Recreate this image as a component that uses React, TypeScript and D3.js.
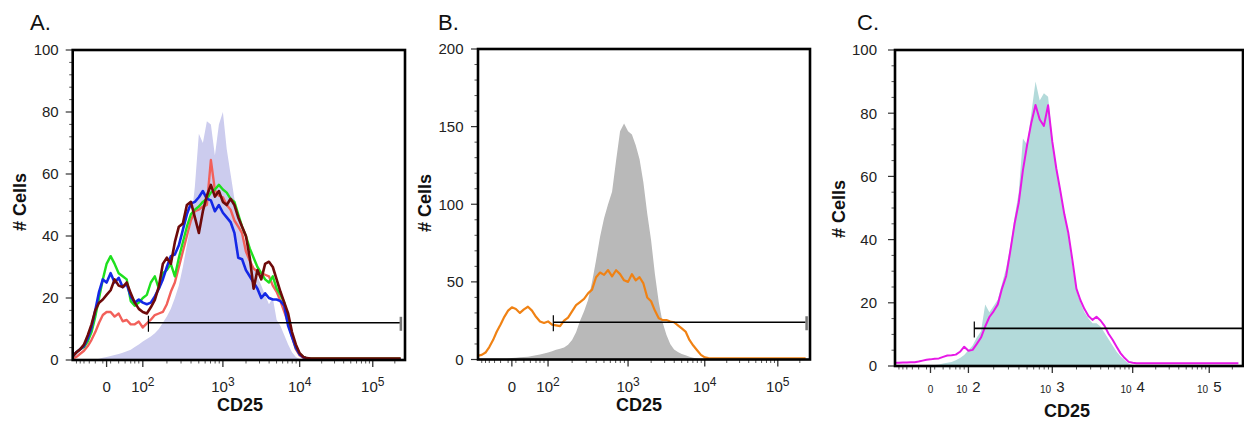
import React from 'react';
import * as d3 from 'd3';

// ---- shared display scale (biexponential-like decades) ----
const decadeStops = [1.1, 1.55, 2, 3, 4, 5, 5.44];
const decadeFrac = [0, 0.102, 0.211, 0.452, 0.683, 0.903, 1];

// ---- histogram bins (decade units) ----
const bins = [
  1.10, 1.15, 1.20, 1.25, 1.30, 1.35, 1.40, 1.45, 1.50, 1.55,
  1.60, 1.65, 1.70, 1.75, 1.80, 1.85, 1.90, 1.95, 2.00, 2.05,
  2.10, 2.15, 2.20, 2.25, 2.30, 2.35, 2.40, 2.45, 2.50, 2.55,
  2.60, 2.65, 2.70, 2.75, 2.80, 2.85, 2.90, 2.95, 3.00, 3.05,
  3.10, 3.15, 3.20, 3.25, 3.30, 3.35, 3.40, 3.45, 3.50, 3.55,
  3.60, 3.65, 3.70, 3.75, 3.80, 3.85, 3.90, 3.95, 4.00, 4.05,
  4.10, 4.15, 4.20, 4.30, 4.40, 4.60, 5.00, 5.38,
];

// ---- Panel A ----
const fillA = [
  0, 0, 0, 0, 0, 0, 0.2, 0.4, 0.7, 1.0,
  1.3, 1.6, 1.9, 2.3, 2.8, 3.3, 4.2, 5.0, 6.0, 6.8,
  7.6, 8.6, 10, 12, 14, 16.5, 20, 24, 30, 37,
  44, 56, 73, 70, 77, 76, 66, 76, 80, 68,
  60, 52, 46, 41, 37, 33, 30, 27, 24, 21,
  18, 20, 13, 11, 8, 5, 2.5, 1, 0.3, 0,
  0, 0, 0, 0, 0, 0, 0, 0,
];
const greenA = [
  1.2, 2.5, 3.5, 4.2, 6, 9, 14, 20, 26, 31,
  33.5, 31, 28, 27, 26, 19, 17.5, 18.5, 20, 21,
  25, 27, 23, 28, 29, 31, 27, 33, 38, 43,
  47, 48.5, 49.5, 51, 52, 54, 55, 56.5, 55, 54,
  52, 51, 47, 43, 40, 36, 33, 30, 28, 26,
  25, 27, 23, 21, 18.5, 13, 8, 4, 2, 1,
  0.5, 0.4, 0.4, 0.4, 0.4, 0.4, 0.4, 0.4,
];
const redA = [
  0.5, 1, 2, 3, 4.5, 6.5, 9, 12, 14.5, 15.5,
  15.5, 14, 15, 12.5, 12.9, 11.5, 11.5, 12.4, 10.5, 11.8,
  13, 14.5, 15, 15.5, 18, 22, 25, 30, 35, 40,
  45, 48, 48.5, 49.5, 50, 64.5, 54.8, 53, 52.5, 50,
  48.5, 45, 43, 40.9, 35, 32, 29.5, 28.5, 28, 27.5,
  27, 24, 22, 19, 15.5, 12, 7.5, 3.5, 1.5, 0.7,
  0.5, 0.4, 0.4, 0.4, 0.4, 0.4, 0.4, 0.4,
];
const blueA = [
  1.2, 2.5, 3.5, 4.5, 7, 10.5, 16, 22, 26, 25,
  28, 25, 26.5, 23.5, 24.5, 20.5, 18.5, 19.5, 18.5, 18,
  18.5, 20.5, 23, 26, 30, 33.5, 34, 37, 42, 47,
  50.5, 51, 52.5, 54.5, 52, 51.5, 48, 50, 47.5, 46,
  44.5, 41, 33, 32.5, 29, 27, 25, 23, 20, 21.5,
  20, 19.5, 19.5, 19, 17.5, 11, 7.5, 4, 1.8, 0.9,
  0.5, 0.3, 0.2, 0.2, 0.2, 0.2, 0.2, 0.2,
];
const maroonA = [
  1.2, 2.5, 3.5, 5, 8, 11.5, 16, 18.5, 19.5, 21,
  22.5, 26, 24, 23.5, 25, 21.5, 18.5, 16.5, 15.5, 15,
  17, 19.4, 23.7, 31, 33, 31, 38, 43, 44, 50,
  51, 46, 41, 48, 53, 56.5, 52.7, 54.5, 51, 50,
  52, 50, 46, 43, 40, 33, 23, 29, 26, 31,
  31.7, 30, 26, 22, 18.5, 15, 9, 5, 2.2, 1,
  0.6, 0.5, 0.5, 0.5, 0.5, 0.5, 0.5, 0.5,
];
const gateA = [2.07, 5.37, 12];

// ---- Panel B ----
const fillB = [
  0, 0, 0, 0, 0, 0, 0, 0, 0.5, 1,
  1.2, 1.4, 1.6, 1.8, 2.2, 2.7, 3.2, 3.9, 4.5, 5.3,
  6.3, 7, 7.8, 9.5, 12.5, 17.5, 25, 31, 38.3, 50,
  64, 79, 91, 100, 108, 128, 147, 152, 147, 145,
  138, 129, 114, 94, 77, 55, 37, 24, 16, 10,
  6.5, 4.8, 3.5, 2.7, 1.8, 1.2, 0.7, 0.3, 0, 0,
  0, 0, 0, 0, 0, 0, 0, 0,
];
const orangeB = [
  2.5, 3, 4.5, 8, 12.5, 18, 22.5, 27.5, 31.5, 33.6,
  32.5, 30, 32.3, 34, 31.5, 27.5, 24.5, 23.5, 24.5, 22.5,
  22, 21.5, 25, 27, 31, 35, 37, 39, 42.6, 45,
  53, 56, 54.5, 57.6, 53.5, 57.5, 55, 51, 50, 55,
  51, 53, 49, 40, 37.5, 31.5, 26.5, 25.4, 25.4, 24.5,
  24, 22, 20, 18, 12.6, 9, 6, 3, 1.4, 0.9,
  0.8, 0.8, 0.8, 0.8, 0.8, 0.8, 0.8, 0.8,
];
const gateB = [2.066, 5.38, 24];

// ---- Panel C ----
const fillC = [
  0, 0, 0, 0, 0, 0, 0, 0, 0, 0,
  0.3, 0.5, 0.8, 1, 1.3, 1.8, 2.5, 3.5, 5, 6.5,
  9, 11, 19.5, 17, 19, 21, 26, 31, 38, 47,
  55, 72, 70, 80, 90, 84, 86.3, 85.2, 72, 63,
  56, 48, 41, 32, 24, 20, 17, 15, 13.5, 13.5,
  12.5, 10.5, 8.5, 6.5, 4.5, 3, 1.8, 0.8, 0.3, 0,
  0, 0, 0, 0, 0, 0, 0, 0,
];
const magentaC = [
  1.0, 1.0, 1.1, 1.1, 1.2, 1.2, 1.4, 1.7, 2.0, 2.1,
  2.3, 2.4, 2.9, 3.3, 3.4, 3.6, 4.5, 6.1, 4.8, 5.1,
  7, 9, 12.5, 15.5, 17.3, 19.5, 24.5, 28.5, 36.5, 45,
  51.7, 62, 70, 77, 82.6, 78, 76, 82.5, 71, 62.5,
  55.4, 48, 42, 33.5, 24.5, 20.8, 18, 15.8, 14.6, 15.6,
  14.4, 12.7, 10.2, 8.3, 6.1, 4, 2.5, 1.3, 1.0, 0.85,
  0.85, 0.85, 0.85, 0.85, 0.85, 0.85, 0.85, 0.85,
];
const gateC = [2.07, 5.43, 11.9];

// ---- axis ticks ----
const xMajorTicks = [
  { d: 1.55, base: '0', exp: '' },
  { d: 2, base: '10', exp: '2' },
  { d: 3, base: '10', exp: '3' },
  { d: 4, base: '10', exp: '4' },
  { d: 5, base: '10', exp: '5' },
];
const xMinorLinear = [1.15, 1.2, 1.25, 1.32, 1.4, 1.5, 1.6, 1.7, 1.78, 1.85, 1.9, 1.95];
const logDecades = [2, 3, 4, 5];
const logMultipliers = [2, 3, 4, 5, 6, 7, 8, 9];

const panels = [
  {
    id: 'A', letter: 'A.', letterX: 30,
    left: 72.7, right: 405, top: 50, bottom: 360,
    yMax: 100, yStep: 20, yMinor: 4, yLabelGap: 14,
    fill: fillA, fillColor: '#ccccee',
    lines: [
      { v: redA, c: '#f2605a', w: 2.4 },
      { v: greenA, c: '#1ee01e', w: 2.4 },
      { v: blueA, c: '#1428e6', w: 2.6 },
      { v: maroonA, c: '#6e0a0a', w: 2.6 },
    ],
    gate: gateA, style: 'std',
    cellsX: 20, cellsY: 202, cdX: 240, cdY: 410.5, tickLabelY: 392,
  },
  {
    id: 'B', letter: 'B.', letterX: 438,
    left: 478, right: 810, top: 49, bottom: 359.5,
    yMax: 200, yStep: 50, yMinor: 10, yLabelGap: 14.5,
    fill: fillB, fillColor: '#b9b9b9',
    lines: [{ v: orangeB, c: '#f08214', w: 2.2 }],
    gate: gateB, style: 'std',
    cellsX: 425, cellsY: 203, cdX: 639, cdY: 410.5, tickLabelY: 392,
  },
  {
    id: 'C', letter: 'C.', letterX: 857,
    left: 895, right: 1243, top: 50, bottom: 366,
    yMax: 100, yStep: 20, yMinor: 5, yLabelGap: 18,
    fill: fillC, fillColor: '#b3dada',
    lines: [{ v: magentaC, c: '#e619e6', w: 2 }],
    gate: gateC, style: 'c',
    cellsX: 839, cellsY: 209, cdX: 1067, cdY: 416.5, tickLabelY: 393,
  },
];

const FONT = '"Liberation Sans", Arial, Helvetica, sans-serif';

function Panel({ p }: { p: any }) {
  const x = d3
    .scaleLinear()
    .domain(decadeStops)
    .range(decadeFrac.map((f) => p.left + f * (p.right - p.left)));
  const y = d3.scaleLinear().domain([0, p.yMax]).range([p.bottom, p.top]);
  const pts = (vals: number[]) => bins.map((d, i) => [d, vals[i]] as [number, number]);
  const area = d3
    .area<[number, number]>()
    .x((q) => x(q[0]))
    .y0(y(0))
    .y1((q) => y(q[1]));
  const line = d3
    .line<[number, number]>()
    .x((q) => x(q[0]))
    .y((q) => y(q[1]));

  const yMajor = d3.range(0, p.yMax + 0.001, p.yStep);
  const yMinor = d3.range(0, p.yMax + 0.001, p.yMinor).filter((v) => !yMajor.includes(v));
  const minorLog: number[] = [];
  logDecades.forEach((k) =>
    logMultipliers.forEach((m) => {
      const d = k + Math.log10(m);
      if (d < decadeStops[decadeStops.length - 1]) minorLog.push(d);
    })
  );
  const xMinor = [...xMinorLinear, ...minorLog];
  const clipId = 'clip' + p.id;
  const [g0, g1, gy] = p.gate;

  return (
    <g>
      <defs>
        <clipPath id={clipId}>
          <rect x={p.left} y={p.top} width={p.right - p.left} height={p.bottom - p.top} />
        </clipPath>
      </defs>
      <text x={p.letterX} y={30} fontFamily={FONT} fontSize={22} fill="#111">
        {p.letter}
      </text>
      <g clipPath={`url(#${clipId})`}>
        <path d={area(pts(p.fill)) || ''} fill={p.fillColor} stroke="none" />
        {p.lines.map((l: any, i: number) => (
          <path
            key={i}
            d={line(pts(l.v)) || ''}
            fill="none"
            stroke={l.c}
            strokeWidth={l.w}
            strokeLinejoin="round"
          />
        ))}
        <line x1={x(g0)} x2={x(g1)} y1={y(gy)} y2={y(gy)} stroke="#000" strokeWidth={1.6} />
        <line x1={x(g0)} x2={x(g0)} y1={y(gy) - 7} y2={y(gy) + 9} stroke="#000" strokeWidth={1.2} />
        <line x1={x(g1) + 1} x2={x(g1) + 1} y1={y(gy) - 6} y2={y(gy) + 8} stroke="#777" strokeWidth={2.5} />
      </g>
      {/* y ticks */}
      {yMajor.map((v) => (
        <g key={'ym' + v}>
          <line x1={p.left - 7} x2={p.left} y1={y(v)} y2={y(v)} stroke="#333" strokeWidth={1.2} />
          <text
            x={p.left - p.yLabelGap}
            y={y(v)}
            dy="0.36em"
            textAnchor="end"
            fontFamily={FONT}
            fontSize={15}
            fill="#222"
          >
            {v}
          </text>
        </g>
      ))}
      {yMinor.map((v) => (
        <line key={'yn' + v} x1={p.left - 3.5} x2={p.left} y1={y(v)} y2={y(v)} stroke="#555" strokeWidth={1} />
      ))}
      {/* x ticks */}
      {xMajorTicks.map((t) => (
        <g key={'xm' + t.d}>
          <line x1={x(t.d)} x2={x(t.d)} y1={p.bottom} y2={p.bottom + 7} stroke="#333" strokeWidth={1.3} />
          {p.style === 'std' ? (
            <text x={x(t.d)} y={p.tickLabelY} textAnchor="middle" fontFamily={FONT} fontSize={15} fill="#222">
              {t.base}
              {t.exp && (
                <tspan dy={-6} fontSize={12}>
                  {t.exp}
                </tspan>
              )}
            </text>
          ) : (
            <text x={x(t.d)} y={p.tickLabelY} textAnchor="middle" fontFamily={FONT} fill="#222">
              <tspan fontSize={10}>{t.base}</tspan>
              {t.exp && (
                <tspan fontSize={15} dx={5} dy={-1}>
                  {t.exp}
                </tspan>
              )}
            </text>
          )}
        </g>
      ))}
      {xMinor.map((d, i) => (
        <line key={'xn' + i} x1={x(d)} x2={x(d)} y1={p.bottom} y2={p.bottom + 3.5} stroke="#555" strokeWidth={1} />
      ))}
      {/* frame */}
      <rect
        x={p.left}
        y={p.top}
        width={p.right - p.left}
        height={p.bottom - p.top}
        fill="none"
        stroke="#000"
        strokeWidth={2.6}
      />
      <text
        x={p.cdX}
        y={p.cdY}
        textAnchor="middle"
        fontFamily={FONT}
        fontWeight="bold"
        fontSize={18}
        fill="#111"
      >
        CD25
      </text>
      <text
        transform={`translate(${p.cellsX},${p.cellsY}) rotate(-90)`}
        textAnchor="middle"
        dy="0.36em"
        fontFamily={FONT}
        fontWeight="bold"
        fontSize={18}
        fill="#111"
      >
        # Cells
      </text>
    </g>
  );
}

export default function App() {
  return (
    <svg
      width={1244}
      height={423}
      viewBox="0 0 1244 423"
      style={{ position: 'absolute', left: 0, top: 0, background: '#fff' }}
    >
      <rect x={0} y={0} width={1244} height={423} fill="#fff" />
      {panels.map((p) => (
        <Panel key={p.id} p={p} />
      ))}
    </svg>
  );
}
